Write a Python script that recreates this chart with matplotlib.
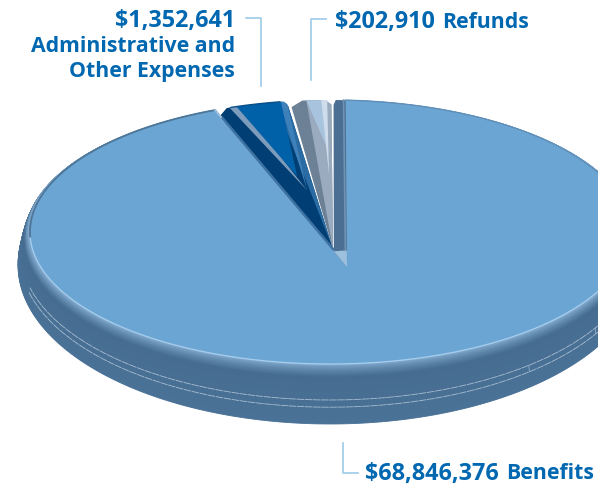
import numpy as np
import matplotlib
matplotlib.use('Agg')
import matplotlib.pyplot as plt
from matplotlib.colors import to_rgb

plt.rcParams['font.family'] = ['Open Sans', 'DejaVu Sans']

# Values printed on the chart
amounts = [68846376, 1352641, 202910]
names = ['Benefits', 'Administrative and\nOther Expenses', 'Refunds']

# Slice sizes as drawn (degrees, the drawing is not to scale)
slice_deg = [334.5, 14.5, 8.5]
start_deg = 3.0

# Pie geometry in pixels
cx, cy, a, b = 330, 233, 300, 132
hub = (347, 268)
hub2 = (333, 250)


def ring(theta, t=0.0):
    # point on the ellipse, t goes from top face (0) to bottom of the rim (1)
    th = np.radians(theta)
    return (cx + (a + 12 * np.sqrt(t)) * np.sin(th),
            cy + 33 * t - (b + 27 * t) * np.cos(th))


def along(theta, frac, apex):
    x, y = ring(theta)
    return (apex[0] + frac * (x - apex[0]), apex[1] + frac * (y - apex[1]))


def sector(th0, th1, apex, cham=(0, 0), n=60):
    # wedge from apex to the arc, corners of the arc can be cut off
    w = th1 - th0
    ts = np.linspace(th0 + cham[0] * w, th1 - cham[1] * w, n)
    x, y = ring(ts)
    if cham[0]:
        p = along(th0, 0.96, apex)
        x, y = np.r_[p[0], x], np.r_[p[1], y]
    if cham[1]:
        p = along(th1, 0.97, apex)
        x, y = np.r_[x, p[0]], np.r_[y, p[1]]
    return (np.r_[apex[0], x, apex[0]], np.r_[apex[1], y, apex[1]])


def mix(c1, c2, f):
    return tuple((1 - f) * np.array(to_rgb(c1)) + f * np.array(to_rgb(c2)))


fig = plt.figure(figsize=(5.98, 4.85), dpi=100)
ax = fig.add_axes([0, 0, 1, 1])
ax.set_xlim(0, 598)
ax.set_ylim(485, 0)
ax.axis('off')

edges = start_deg + np.cumsum([0] + slice_deg)

# Benefits slice: rim first, then the top face
th0, th1 = edges[0], edges[1]
ts = np.linspace(th0, th1, 400)
for t in np.linspace(1, 0, 70):
    x, y = ring(ts, t)
    if t > 0.22:
        col = mix('#466d90', '#4a7297', (t - 0.22) / 0.78)
    else:
        col = mix('#8db6da', '#466d90', (t / 0.22) ** 0.6)
    ax.fill(np.r_[hub[0], x], np.r_[hub[1], y], color=col, lw=0.6)

for t in [0.6, 0.72]:
    x, y = ring(np.linspace(108, 256, 300), t)
    ax.plot(x, y, color='#b8cbdc', lw=0.6, ls=(0, (9, 0.8)), alpha=0.85)
for th in [140, 121]:
    tt = np.array([0.6, 0.72])
    x, y = ring(np.array([th, th]), tt)
    ax.plot(x, y, color='#b8cbdc', lw=0.5, alpha=0.8)

ax.fill(*sector(th0, th1, hub), color='#6ba5d3', lw=0)
x, y = ring(np.linspace(95, 268, 200))
ax.plot(x, y, color='#a6cdec', lw=0.9)
x, y = ring(np.linspace(268, th1, 100))
ax.plot(x, y, color='#4d7699', lw=1.3)
x, y = ring(np.linspace(th0, 95, 100))
ax.plot(x, y, color='#5f8fb8', lw=1.0)

# cut face of the Benefits slice
p0 = along(th1, 0.1, hub)
w = 2.4
x, y = ring(np.linspace(th0 - w + 0.5, th0, 12))
p2 = along(th0 - w, 0.97, hub)
ax.fill(np.r_[p0[0], p2[0], x, hub[0]], np.r_[p0[1], p2[1], y, hub[1]], color='#4a6f92', lw=0)
p1 = along(th0, 0.1, hub)
ax.fill([p0[0], hub[0], p1[0]], [p0[1], hub[1], p1[1]], color='#9cc0dd', lw=0)
x, y = ring(th0 - 0.4)
ax.plot([x, p1[0] - 1.5], [y, p1[1]], color='#6f93b3', lw=1.2)
x0, y0 = along(th1, 0.93, hub)
x1, y1 = ring(th1)
ax.plot([x0, x1], [y0, y1], color='#9cc0dd', lw=1.5)

# Administrative slice
th0, th1 = edges[1] + 0.1, edges[2] - 0.3
w = th1 - th0
ax.fill(*sector(th0, th1, hub2, cham=(0.16, 0.07)), color='#003e73', lw=0)
ax.fill(*sector(th0 + 0.84 * w, th1, hub2, cham=(0, 0.4)), color='#2a6ba3', lw=0)
xa, ya = along(th0, 0.94, hub2)
ax.plot([xa, hub2[0]], [ya, hub2[1]], color='#3e72a3', lw=1.8)
apex_in = along(th0 + 0.75 * w, 0.4, hub2)
ax.fill(*sector(th0 + 0.2 * w, th0 + 0.36 * w, apex_in), color='#7d9cbb', lw=0)
ax.fill(*sector(th0 + 0.9 * w, th1, apex_in, cham=(0, 0.4)), color='#3d80ba', lw=0)
ax.fill(*sector(th0 + 0.3 * w, th0 + 0.92 * w, along(th0 + 0.65 * w, 0.5, hub2)), color='#0061a8', lw=0)
x, y = ring(np.linspace(th0 + 0.22 * w, th0 + 0.9 * w, 30))
ax.plot(x, y, color='#0b4f8a', lw=1.0)

# Refunds slice
th0, th1 = edges[2] + 0.3, edges[3] - 0.25
w = th1 - th0
ax.fill(*sector(th0, th1, hub2, cham=(0.3, 0.15)), color='#6d8196', lw=0)
ax.fill(*sector(th0 + 0.4 * w, th1, hub2, cham=(0, 0.25)), color='#9aabbf', lw=0)
apex_in = along(th0 + 0.85 * w, 0.67, hub2)
ax.fill(*sector(th0 + 0.4 * w, th0 + 0.78 * w, apex_in), color='#a7c3de', lw=0)
ax.fill(*sector(th0 + 0.76 * w, th0 + 0.9 * w, along(th0 + 0.85 * w, 0.5, hub2)), color='#cfdcec', lw=0)

# Leader lines
line_col = '#9ccae9'
ax.plot([246, 261, 261], [19, 19, 87], color=line_col, lw=1.2)
ax.plot([326, 311, 311], [20, 20, 81], color=line_col, lw=1.2)
ax.plot([343, 343, 358], [444, 474, 474], color=line_col, lw=1.2)

# Labels, the figures are set a bit larger than the words
txt = dict(color='#0067b1', fontsize=15.3, fontweight='bold', va='center')
num = dict(txt, fontsize=16.8)


def amount_then_name(x, y, amount, name):
    t = ax.text(x, y, f'${amount:,}', ha='left', **num)
    bb = t.get_window_extent(fig.canvas.get_renderer())
    ax.text(bb.x1 + 7, y, name, ha='left', **txt)


ax.text(235, 21, f'${amounts[1]:,}', ha='right', **num)
ax.text(235, 47, names[1].split('\n')[0], ha='right', **txt)
ax.text(235, 71, names[1].split('\n')[1], ha='right', **txt)
amount_then_name(335, 22, amounts[2], names[2])
amount_then_name(365, 474, amounts[0], names[0])

plt.savefig('out.png', dpi=100)
